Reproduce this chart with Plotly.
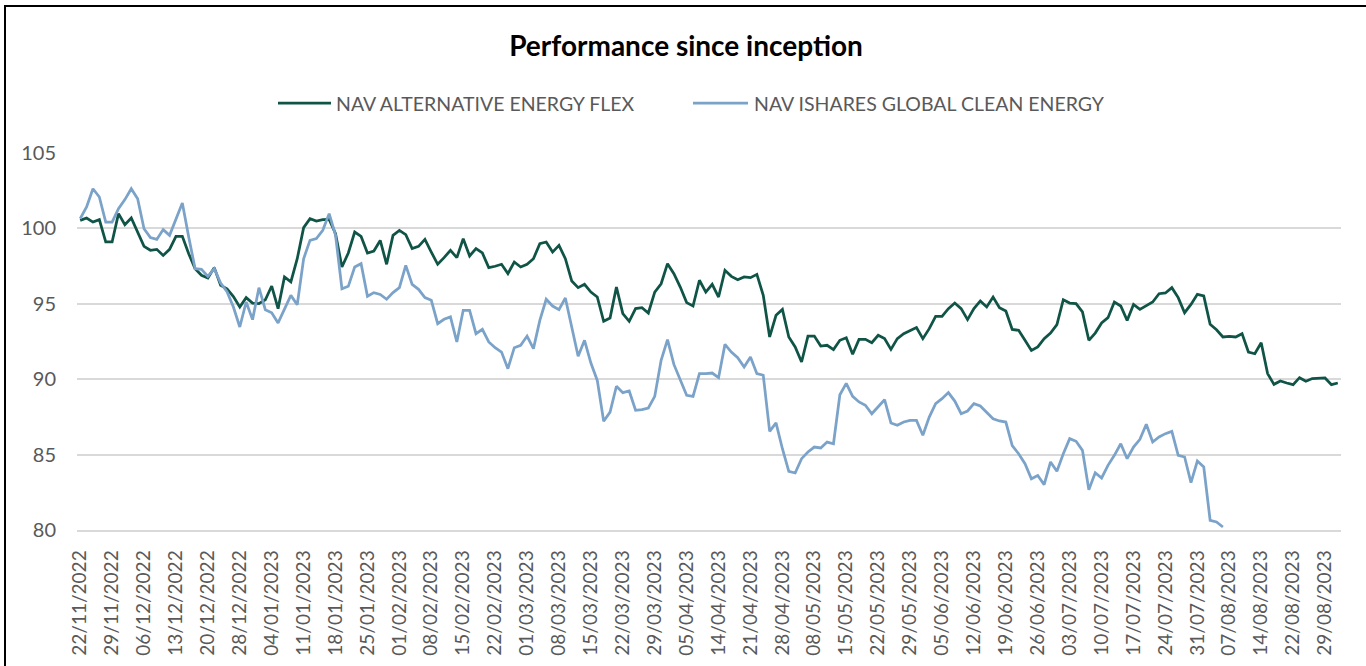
import pandas as pd
import plotly.graph_objects as go

# Trading days (fund calendar): business days with these holidays removed
start_date = "2022-11-22"
end_date = "2023-08-31"
holidays = ["2022-12-26", "2023-04-07", "2023-04-10", "2023-05-01", "2023-08-15"]

days = pd.bdate_range(start_date, end_date)
days = days[~days.isin(pd.to_datetime(holidays))]
dates = [d.strftime("%d/%m/%Y") for d in days]

series_names = ["NAV ALTERNATIVE ENERGY FLEX", "NAV ISHARES GLOBAL CLEAN ENERGY"]

nav_flex = [
    100.53, 100.69, 100.42, 100.58, 99.10, 99.10, 100.98, 100.25, 100.69, 99.76,
    98.81, 98.55, 98.61, 98.21, 98.61, 99.47, 99.47, 98.32, 97.33, 96.89,
    96.71, 97.40, 96.22, 96.00, 95.48, 94.79, 95.41, 95.05, 95.01, 95.27,
    96.18, 94.68, 96.78, 96.45, 97.99, 100.05, 100.65, 100.49, 100.58, 100.60,
    99.65, 97.44, 98.37, 99.76, 99.47, 98.37, 98.50, 99.20, 97.62, 99.54,
    99.87, 99.58, 98.66, 98.81, 99.27, 98.43, 97.62, 98.06, 98.55, 98.06,
    99.32, 98.17, 98.66, 98.37, 97.40, 97.49, 97.62, 97.00, 97.77, 97.44,
    97.62, 97.99, 98.99, 99.10, 98.43, 98.88, 97.99, 96.51, 96.07, 96.29,
    95.78, 95.45, 93.84, 94.06, 96.11, 94.35, 93.84, 94.68, 94.74, 94.39,
    95.78, 96.33, 97.66, 97.00, 96.11, 95.08, 94.85, 96.56, 95.78, 96.29,
    95.45, 97.22, 96.82, 96.60, 96.78, 96.73, 96.95, 95.56, 92.80, 94.24,
    94.63, 92.80, 92.14, 91.14, 92.86, 92.86, 92.20, 92.25, 91.96, 92.58,
    92.75, 91.65, 92.64, 92.64, 92.42, 92.91, 92.69, 91.98, 92.69, 93.02,
    93.24, 93.42, 92.69, 93.35, 94.17, 94.17, 94.68, 95.05, 94.68, 93.95,
    94.68, 95.19, 94.79, 95.45, 94.74, 94.52, 93.30, 93.24, 92.58, 91.91,
    92.14, 92.69, 93.06, 93.62, 95.27, 95.05, 95.01, 94.46, 92.58, 93.06,
    93.73, 94.08, 95.12, 94.85, 93.90, 94.96, 94.63, 94.85, 95.12, 95.67,
    95.72, 96.07, 95.41, 94.41, 94.96, 95.63, 95.52, 93.64, 93.28, 92.80,
    92.84, 92.80, 93.02, 91.80, 91.69, 92.42, 90.37, 89.66, 89.88, 89.75,
    89.64, 90.10, 89.86, 90.04, 90.04, 90.08, 89.64, 89.75,
]

nav_ishares = [
    100.65, 101.42, 102.63, 102.08, 100.42, 100.42, 101.31, 101.91, 102.63, 101.97,
    99.98, 99.39, 99.27, 99.92, 99.54, 100.60, 101.68, 99.43, 97.33, 97.29,
    96.82, 97.33, 96.38, 95.80, 94.79, 93.46, 95.12, 93.95, 96.07, 94.61,
    94.41, 93.73, 94.68, 95.56, 94.94, 97.99, 99.21, 99.32, 99.87, 100.98,
    99.54, 96.00, 96.16, 97.44, 97.66, 95.50, 95.74, 95.62, 95.30, 95.74,
    96.07, 97.55, 96.29, 95.96, 95.41, 95.23, 93.68, 93.97, 94.13, 92.47,
    94.57, 94.57, 93.02, 93.31, 92.47, 92.09, 91.80, 90.70, 92.09, 92.25,
    92.86, 92.03, 93.90, 95.30, 94.85, 94.61, 95.39, 93.35, 91.52, 92.58,
    91.07, 89.92, 87.21, 87.82, 89.53, 89.11, 89.22, 87.94, 87.98, 88.09,
    88.86, 91.25, 92.62, 90.98, 89.97, 88.93, 88.86, 90.37, 90.37, 90.41,
    90.10, 92.31, 91.80, 91.43, 90.81, 91.47, 90.37, 90.26, 86.54, 87.10,
    85.39, 83.89, 83.78, 84.73, 85.17, 85.50, 85.44, 85.83, 85.72, 88.97,
    89.72, 88.86, 88.49, 88.27, 87.71, 88.16, 88.64, 87.10, 86.94, 87.16,
    87.27, 87.27, 86.28, 87.49, 88.38, 88.71, 89.11, 88.55, 87.71, 87.89,
    88.38, 88.22, 87.82, 87.38, 87.23, 87.16, 85.60, 85.06, 84.40, 83.40,
    83.62, 83.01, 84.51, 83.89, 85.06, 86.06, 85.88, 85.28, 82.67, 83.80,
    83.45, 84.29, 84.95, 85.72, 84.73, 85.50, 86.01, 87.01, 85.83, 86.17,
    86.39, 86.54, 84.95, 84.84, 83.14, 84.57, 84.18, 80.64, 80.53, 80.20,
]

tick_labels = dates[::5]

GREEN = "#0F5446"
BLUE = "#7BA2C8"
GRID = "#D9D9D9"
TXT = "#595959"
FONT = "Lato"

W, H = 1366, 666
L, R, T, B = 77, 25, 153, 136
pw, ph = W - L - R, H - T - B


def px_x(px):
    return (px - L) / pw


def px_y(py):
    return (H - B - py) / ph


fig = go.Figure()
fig.add_trace(go.Scatter(
    x=dates, y=nav_flex, mode="lines", name=series_names[0],
    line=dict(color=GREEN, width=2.75), showlegend=False,
))
fig.add_trace(go.Scatter(
    x=dates[:len(nav_ishares)], y=nav_ishares, mode="lines",
    name=series_names[1], line=dict(color=BLUE, width=2.75), showlegend=False,
))

# Legend drawn as line keys + text labels (Excel-style long keys)
legend_keys = [(278, 331, GREEN), (693, 748, BLUE)]
legend_text_x = [334, 752]
legend_y = 103
shapes = []
annotations = []
for (kx0, kx1, col), tx, name in zip(legend_keys, legend_text_x, series_names):
    shapes.append(dict(type="line", xref="paper", yref="paper",
                       x0=px_x(kx0), x1=px_x(kx1), y0=px_y(legend_y), y1=px_y(legend_y),
                       line=dict(color=col, width=2.75)))
    annotations.append(dict(text=name, xref="paper", yref="paper",
                            x=px_x(tx), y=px_y(legend_y), xanchor="left", yanchor="middle",
                            showarrow=False,
                            font=dict(family=FONT, size=19.5, color=TXT)))

# Chart frame (left and top edges visible)
shapes.append(dict(type="line", xref="paper", yref="paper",
                   x0=px_x(5), x1=px_x(5), y0=px_y(720), y1=px_y(6),
                   line=dict(color="#000000", width=2)))
shapes.append(dict(type="line", xref="paper", yref="paper",
                   x0=px_x(4), x1=px_x(1420), y0=px_y(6), y1=px_y(6),
                   line=dict(color="#000000", width=2)))

fig.update_layout(
    width=W, height=H,
    margin=dict(l=L, r=R, t=T, b=B, pad=0, autoexpand=False),
    paper_bgcolor="white", plot_bgcolor="white",
    font=dict(family=FONT, color=TXT),
    showlegend=False,
    title=dict(
        text="<b>Performance since inception</b>",
        font=dict(family=FONT, size=28, color="#000000"),
        x=686 / W, xref="container", xanchor="center",
        y=1 - 46 / H, yref="container", yanchor="middle",
    ),
    xaxis=dict(
        type="category", categoryorder="array", categoryarray=dates,
        range=[-0.5, len(dates) - 0.5], automargin=False,
        tickmode="array", tickvals=tick_labels, ticktext=tick_labels,
        tickangle=-90, ticks="", showgrid=False,
        showline=True, linecolor=GRID, linewidth=1.5,
        tickfont=dict(family=FONT, size=19, color=TXT),
        ticklabelstandoff=11,
    ),
    yaxis=dict(
        range=[80, 105], tickmode="linear", tick0=80, dtick=5, automargin=False,
        showgrid=True, gridcolor=GRID, gridwidth=1.5,
        zeroline=False, showline=False, ticks="",
        tickfont=dict(family=FONT, size=20, color=TXT),
        ticklabelstandoff=20,
    ),
    shapes=shapes,
    annotations=annotations,
)

fig.write_html(
    "out.html",
    config={"displayModeBar": False},
    post_script="document.body.style.margin='0';document.body.style.overflow='hidden';",
)
